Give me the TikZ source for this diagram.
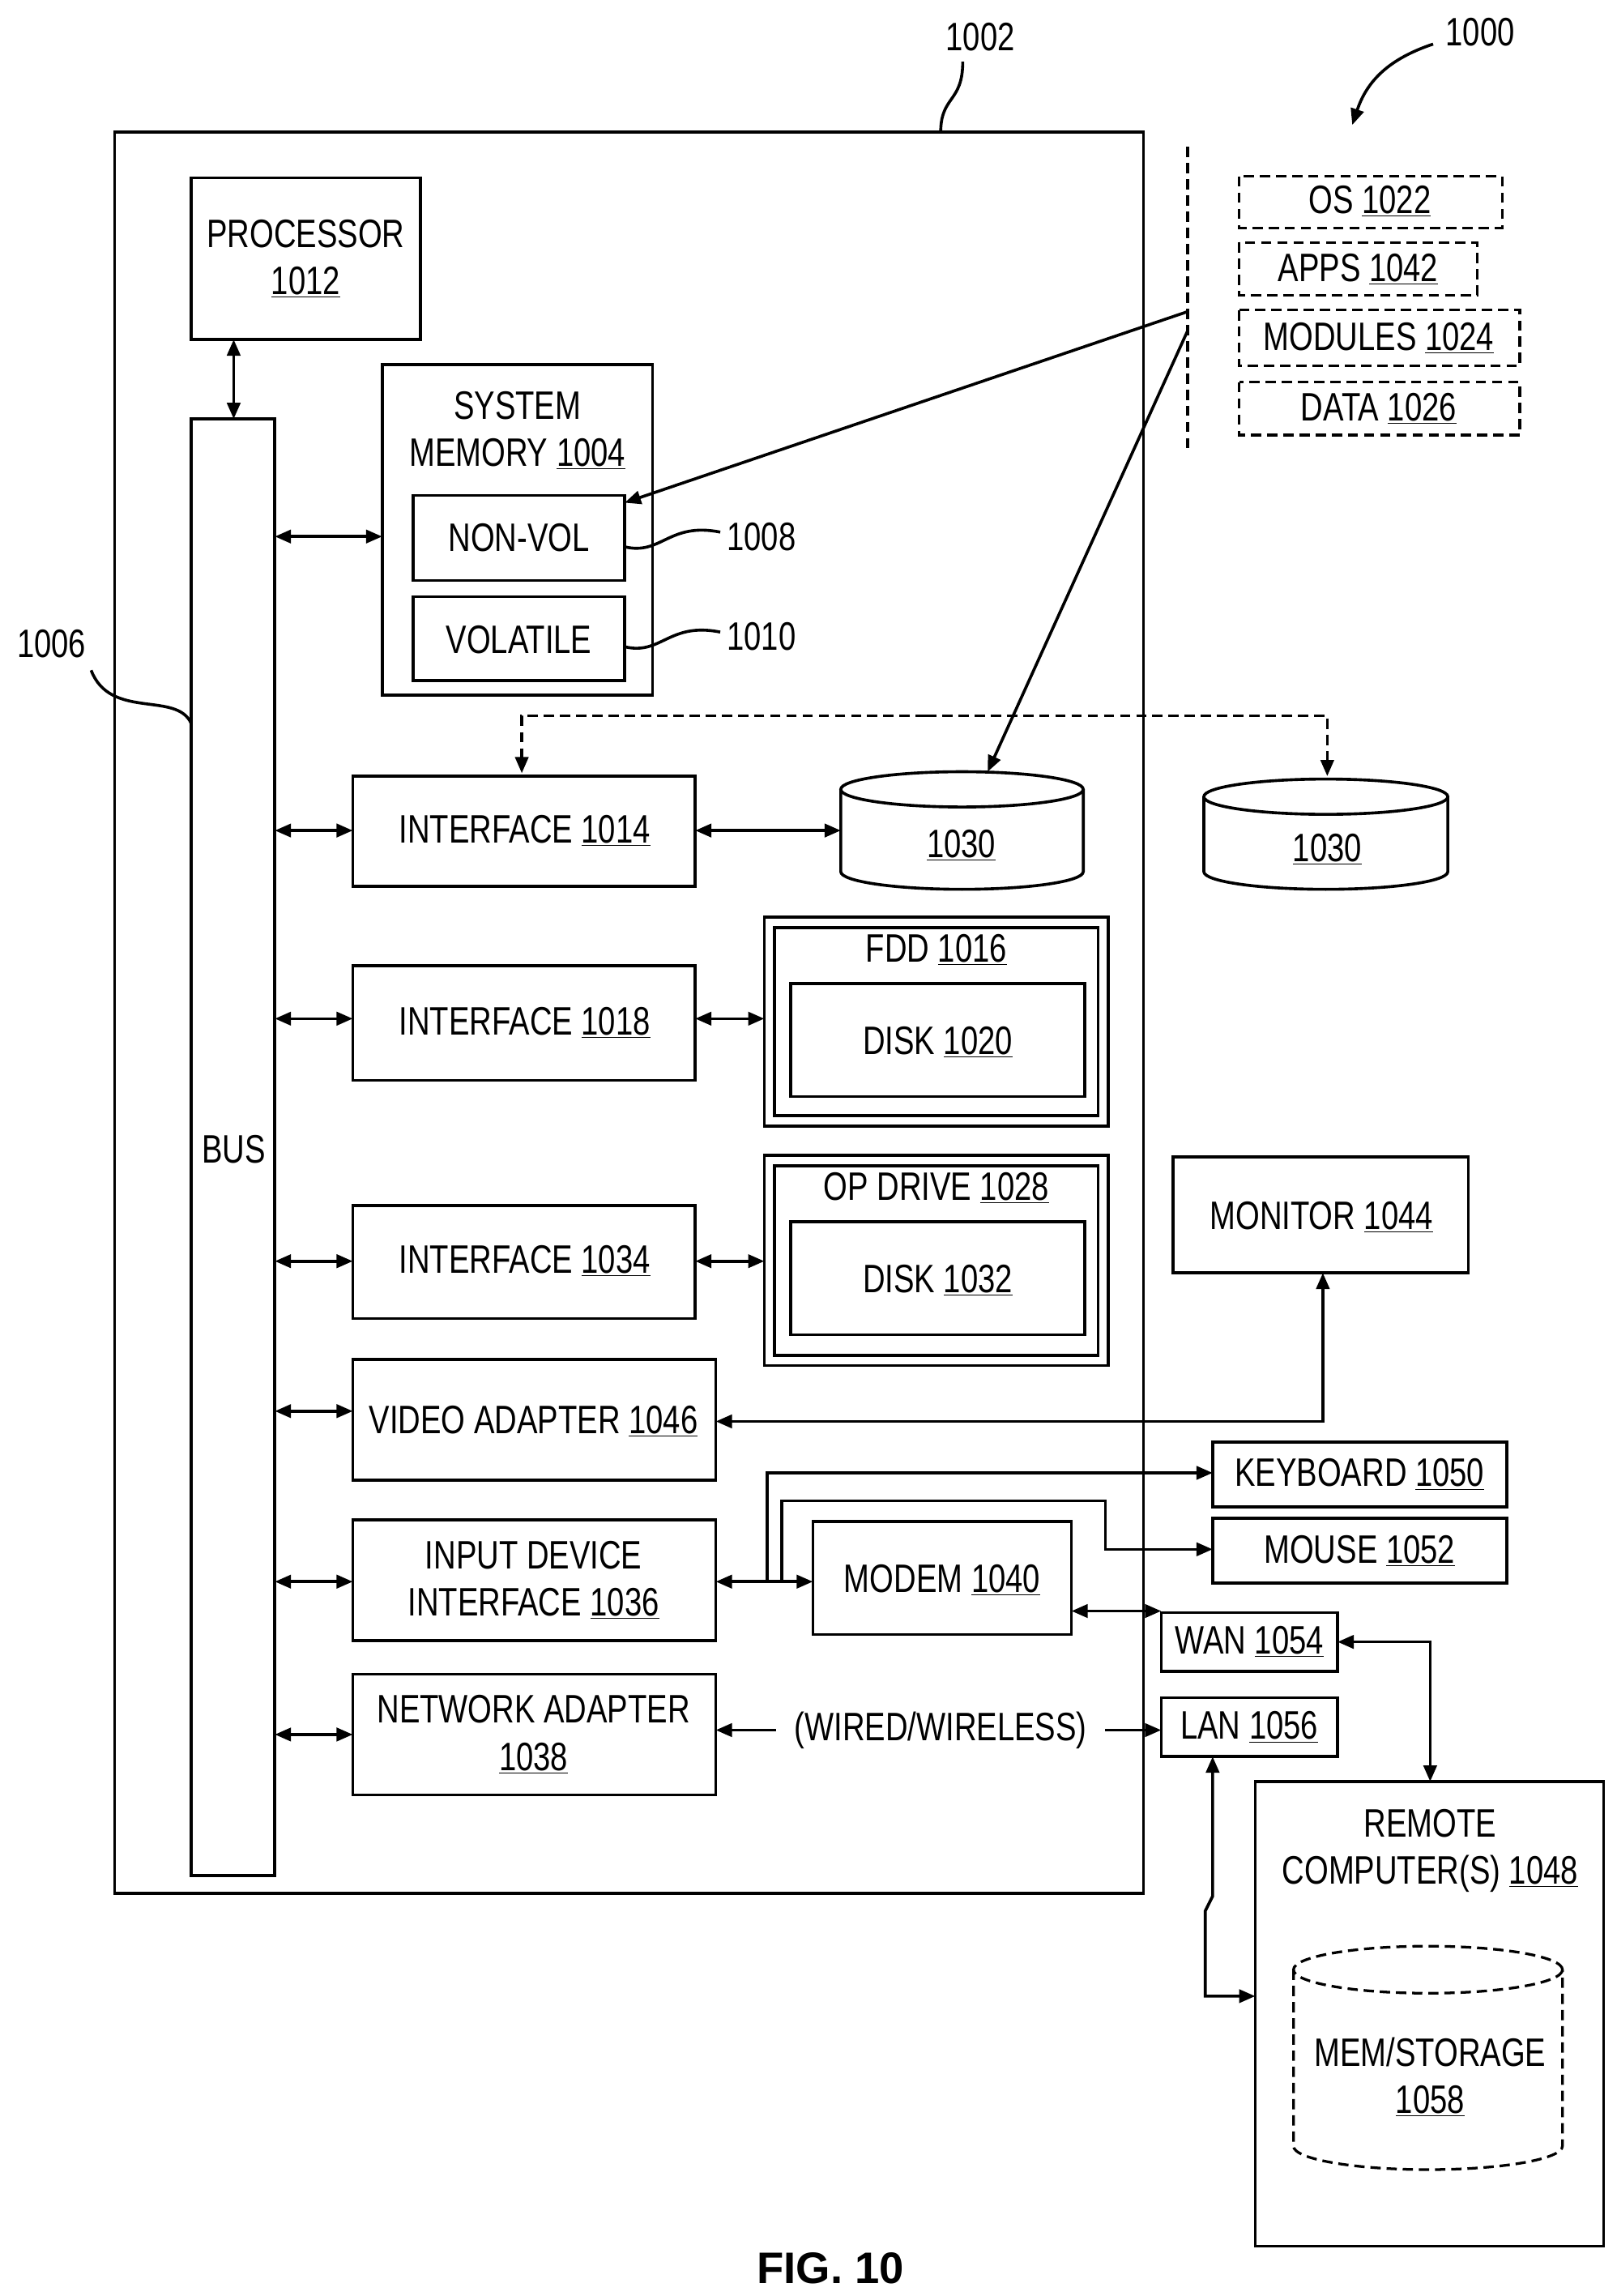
\documentclass[tikz,border=0pt]{standalone}
\usepackage{fontspec}
\setmainfont{Liberation Sans}[FakeStretch=0.78]
\newfontfamily\figfont{Liberation Sans}
\usetikzlibrary{arrows.meta,shapes.geometric}
\begin{document}
\begin{tikzpicture}[x=1pt,y=-1pt,
 bx/.style={draw,line width=2pt},
 ds/.style={draw,line width=1.8pt,dash pattern=on 7pt off 4pt},
 ln/.style={line width=2pt},
 ar/.style={ln,-{Triangle[length=11pt,width=9pt]}},
 da/.style={ln,{Triangle[length=11pt,width=9pt]}-{Triangle[length=11pt,width=9pt]}},
 t/.style={font=\fontsize{27}{32}\selectfont,align=center,inner sep=0pt}]
\useasboundingbox (0,0) rectangle (1100,1562);
\newcommand{\un}[1]{\underline{#1}}
% outer
\draw[bx] (78,90) rectangle (778,1288);
\node[t] (l1002) at (667,25) {1002};
\draw[ln] (640,90) .. controls (640,65) and (655,70) .. (655,42);
\node[t] (l1000) at (1007,22) {1000};
\draw[ar] (975,30) .. controls (945,40) and (930,55) .. (920,85);
% processor, bus
\draw[bx] (130,121) rectangle (286,231);
\node[t] (proc) at (208,176) {PROCESSOR\\\un{1012}};
\draw[bx] (130,285) rectangle (187,1276);
\node[t] (bus) at (159,782) {BUS};
\draw[da] (159,231) -- (159,285);
\node[t] (l1006) at (35,438) {1006};
\draw[ln] (62,456) .. controls (75,490) and (120,470) .. (130,492);
% system memory
\draw[bx] (260,248) rectangle (444,473);
\node[t] (sm) at (352,293) {SYSTEM\\MEMORY \un{1004}};
\draw[bx] (281,337) rectangle (425,395);
\node[t] (nv) at (353,366) {NON-VOL};
\draw[bx] (281,406) rectangle (425,463);
\node[t] (vol) at (353,435) {VOLATILE};
\draw[da] (187,365) -- (260,365);
\node[t] (l1008) at (518,365) {1008};
\draw[ln] (425,372) .. controls (450,378) and (455,355) .. (490,362);
\node[t] (l1010) at (518,433) {1010};
\draw[ln] (425,440) .. controls (450,446) and (455,423) .. (490,430);
% software
\draw[ds] (808,100) -- (808,305);
\draw[ds] (843,120) rectangle (1022,155); \node[t] (os) at (932,137) {OS \un{1022}};
\draw[ds] (843,165) rectangle (1005,201); \node[t] (apps) at (924,183) {APPS \un{1042}};
\draw[ds] (843,211) rectangle (1034,249); \node[t] (mod) at (938,230) {MODULES \un{1024}};
\draw[ds] (843,260) rectangle (1034,296); \node[t] (dat) at (938,278) {DATA \un{1026}};
\draw[ar] (808,212) -- (425,342);
\draw[ar] (808,225) -- (672,525);
% dashed link
\draw[ds,-{Triangle[length=11pt,width=9pt]}] (630,487) -- (355,487) -- (355,526);
\draw[ds,-{Triangle[length=11pt,width=9pt]}] (630,487) -- (903,487) -- (903,528);
% interface 1014
\draw[bx] (240,528) rectangle (473,603);
\node[t] (if14) at (357,565) {INTERFACE \un{1014}};
\draw[da] (187,565) -- (240,565);
\draw[da] (473,565) -- (572,565);
\draw[bx] (572,537) -- (572,593) arc[start angle=180,end angle=0,x radius=82.5,y radius=12] -- (737,537);
\draw[bx] (654.5,537) ellipse[x radius=82.5,y radius=12];
\node[t] (c1) at (654,575) {\un{1030}};
\draw[bx] (819,542) -- (819,593) arc[start angle=180,end angle=0,x radius=83,y radius=12] -- (985,542);
\draw[bx] (902,542) ellipse[x radius=83,y radius=12];
\node[t] (c2) at (903,578) {\un{1030}};
% interface 1018, FDD
\draw[bx] (240,657) rectangle (473,735);
\node[t] (if18) at (357,696) {INTERFACE \un{1018}};
\draw[da] (187,693) -- (240,693);
\draw[da] (473,693) -- (520,693);
\draw[bx] (520,624) rectangle (754,766);
\draw[bx] (527,631) rectangle (747,759);
\node[t] (fdd) at (637,646) {FDD \un{1016}};
\draw[bx] (538,669) rectangle (738,746);
\node[t] (d20) at (638,709) {DISK \un{1020}};
% interface 1034, OP drive
\draw[bx] (240,820) rectangle (473,897);
\node[t] (if34) at (357,858) {INTERFACE \un{1034}};
\draw[da] (187,858) -- (240,858);
\draw[da] (473,858) -- (520,858);
\draw[bx] (520,786) rectangle (754,929);
\draw[bx] (527,793) rectangle (747,922);
\node[t] (op) at (637,808) {OP DRIVE \un{1028}};
\draw[bx] (538,831) rectangle (738,908);
\node[t] (d32) at (638,871) {DISK \un{1032}};
% video adapter, monitor
\draw[bx] (240,925) rectangle (487,1007);
\node[t] (va) at (363,967) {VIDEO ADAPTER \un{1046}};
\draw[da] (187,960) -- (240,960);
\draw[bx] (798,787) rectangle (999,866);
\node[t] (mon) at (899,828) {MONITOR \un{1044}};
\draw[da] (487,967) -- (900,967) -- (900,866);
% input device
\draw[bx] (240,1034) rectangle (487,1116);
\node[t] (idi) at (363,1075) {INPUT DEVICE\\INTERFACE \un{1036}};
\draw[da] (187,1076) -- (240,1076);
\draw[bx] (553,1035) rectangle (729,1112);
\node[t] (mdm) at (641,1075) {MODEM \un{1040}};
\draw[da] (487,1076) -- (553,1076);
\draw[bx] (825,981) rectangle (1025,1025);
\node[t] (kb) at (925,1003) {KEYBOARD \un{1050}};
\draw[bx] (825,1033) rectangle (1025,1077);
\node[t] (ms) at (925,1055) {MOUSE \un{1052}};
\draw[ar] (522,1076) -- (522,1002) -- (825,1002);
\draw[ar] (532,1076) -- (532,1021) -- (752,1021) -- (752,1054) -- (825,1054);
% WAN LAN
\draw[bx] (790,1097) rectangle (910,1137);
\node[t] (wan) at (850,1117) {WAN \un{1054}};
\draw[bx] (790,1155) rectangle (910,1195);
\node[t] (lan) at (850,1175) {LAN \un{1056}};
\draw[da] (729,1096) -- (790,1096);
% network adapter
\draw[bx] (240,1139) rectangle (487,1221);
\node[t] (na) at (363,1180) {NETWORK ADAPTER\\\un{1038}};
\draw[da] (187,1180) -- (240,1180);
\node[t] (ww) at (640,1177) {(WIRED/WIRELESS)};
\draw[ln,{Triangle[length=11pt,width=9pt]}-] (487,1177) -- (528,1177);
\draw[ar] (752,1177) -- (790,1177);
% remote
\draw[bx] (854,1212) rectangle (1091,1528);
\node[t] (rc) at (973,1259) {REMOTE\\COMPUTER(S) \un{1048}};
\draw[ds] (880,1340) -- (880,1460) arc[start angle=180,end angle=0,x radius=91.5,y radius=16] -- (1063,1340);
\draw[ds] (971.5,1340) ellipse[x radius=91.5,y radius=16];
\node[t] (mem) at (973,1413) {MEM/STORAGE\\\un{1058}};
\draw[da] (910,1117) -- (973,1117) -- (973,1212);
\draw[da] (825,1195) -- (825,1290) -- (820,1300) -- (820,1358) -- (854,1358);
\node[font=\figfont\bfseries\fontsize{30}{34}\selectfont] (fig) at (565,1543) {FIG. 10};
\end{tikzpicture}
\end{document}
